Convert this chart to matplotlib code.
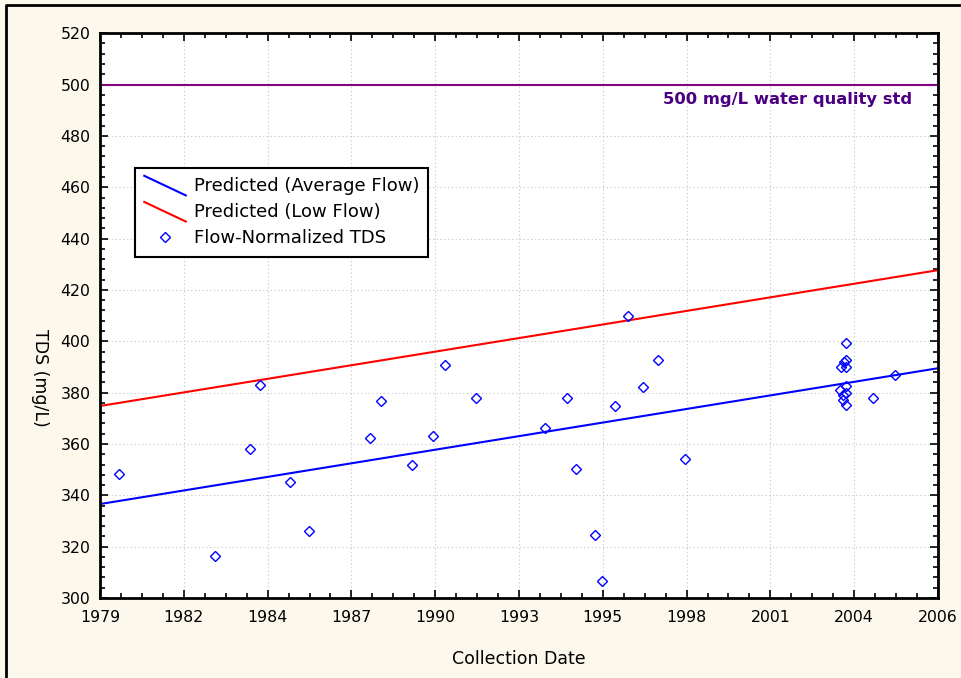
import numpy as np
import matplotlib
matplotlib.use("Agg")
import matplotlib.pyplot as plt
from matplotlib.lines import Line2D
from matplotlib.legend_handler import HandlerLine2D
from matplotlib.ticker import AutoMinorLocator

plt.rcParams['font.family'] = ['DejaVu Sans']

# flow-normalized TDS samples (decimal year, mg/L)
years = [1979.62, 1982.77, 1983.91, 1984.22, 1985.22, 1985.84, 1987.82, 1988.19,
         1989.19, 1989.88, 1990.27, 1991.28, 1993.54, 1994.26, 1994.56, 1995.20,
         1995.40, 1995.84, 1996.28, 1996.75, 1997.26, 1998.13,
         2003.39, 2003.39, 2003.34, 2003.24, 2003.39, 2003.39, 2003.20, 2003.39,
         2003.28, 2003.31, 2003.39, 2004.27, 2004.99]
tds = [348.3, 316.2, 357.9, 383.1, 345.3, 326.0, 362.4, 376.6,
       352.0, 363.2, 390.6, 378.0, 366.1, 378.0, 350.3, 324.4,
       306.6, 374.9, 409.9, 382.3, 392.8, 354.1,
       399.4, 392.9, 391.8, 390.1, 390.1, 382.5, 381.0, 380.0,
       378.9, 377.1, 375.0, 378.0, 387.0]

# predicted trend lines (start / end of the axis)
x_start, x_end = 1979.0, 2006.4
avg_flow = [336.6, 389.5]
low_flow = [374.8, 427.7]

std_value = 500
tick_labels = ['1979', '1982', '1984', '1987', '1990', '1993',
               '1995', '1998', '2001', '2004', '2006']


class DiagHandler(HandlerLine2D):
    # legend line drawn as a falling diagonal
    def create_artists(self, legend, orig_handle, xdescent, ydescent,
                       width, height, fontsize, trans):
        line = Line2D([-xdescent, width - xdescent],
                      [height - ydescent + 2, -ydescent - 3])
        self.update_prop(line, orig_handle, legend)
        line.set_transform(trans)
        return [line]


fig = plt.figure(figsize=(9.62, 6.78), dpi=100)
fig.patch.set_facecolor('#fdf8ec')
fig.add_artist(Line2D([0.006, 0.006, 1.0], [0.0, 0.993, 0.993],
                      transform=fig.transFigure, color='black', lw=2))

ax = fig.add_axes([0.104, 0.118, 0.871, 0.833])
ax.set_facecolor('white')

ax.axhline(std_value, color='#800080', lw=1.5, zorder=2)
ax.text(2005.55, std_value - 3, '500 mg/L water quality std', color='#4b0082',
        fontsize=11.8, fontweight='bold', ha='right', va='top')

l1, = ax.plot([x_start, x_end], avg_flow, color='blue', lw=1.5,
              label='Predicted (Average Flow)')
l2, = ax.plot([x_start, x_end], low_flow, color='red', lw=1.5,
              label='Predicted (Low Flow)')
pts, = ax.plot(years, tds, ls='None', marker='D', ms=5.5, mfc='none',
               mec='blue', mew=1.0, label='Flow-Normalized TDS')

ax.set_xlim(x_start, x_end)
ax.set_ylim(300, 520)
ax.set_xticks(np.linspace(x_start, x_end, 11))
ax.set_xticklabels(tick_labels)
ax.set_yticks(np.arange(300, 521, 20))
ax.xaxis.set_minor_locator(AutoMinorLocator(4))
ax.yaxis.set_minor_locator(AutoMinorLocator(5))
ax.tick_params(which='both', direction='in', top=True, right=True,
               labelsize=11.3, width=1.2)
ax.tick_params(axis='x', pad=9)
ax.tick_params(axis='y', pad=7)
ax.tick_params(which='major', length=6)
ax.tick_params(which='minor', length=3.5)
for s in ax.spines.values():
    s.set_linewidth(2)
ax.grid(True, which='major', color='#cccccc', ls=(0, (1.2, 2.2)), lw=0.8)

ax.set_xlabel('Collection Date', fontsize=12.5)
ax.xaxis.set_label_coords(0.5, -0.092)
ax.set_ylabel('TDS (mg/L)', fontsize=12.5, rotation=270, va='center')
ax.yaxis.set_label_coords(-0.072, 0.39)

leg = ax.legend(handles=[l1, l2, pts], loc='upper left',
                bbox_to_anchor=(0.042, 0.761), fontsize=13,
                handler_map={l1: DiagHandler(), l2: DiagHandler()},
                numpoints=1, handlelength=2.3, handletextpad=0.45,
                labelspacing=0.45, borderpad=0.5, borderaxespad=0,
                fancybox=False, framealpha=1, edgecolor='black')
leg.get_frame().set_linewidth(1.5)

fig.savefig('out.png', dpi=100, facecolor=fig.get_facecolor())
